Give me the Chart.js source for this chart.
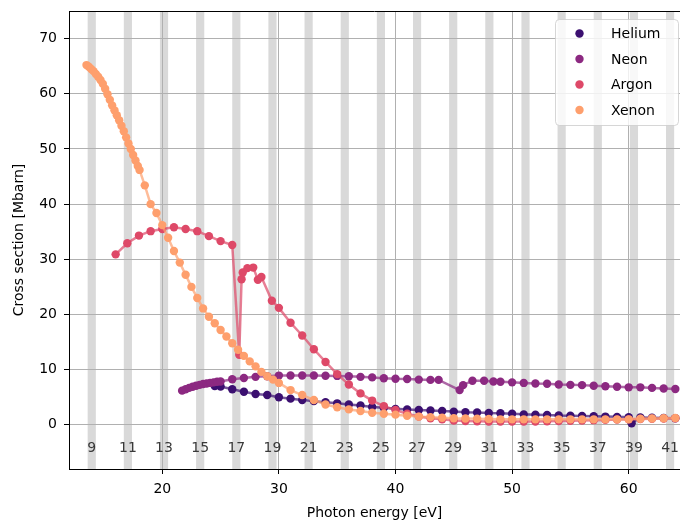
<!DOCTYPE html>
<html>
<head>
<meta charset="utf-8">
<script src="https://cdn.jsdelivr.net/npm/chart.js@4/dist/chart.umd.min.js"></script>
<style>
  body { margin: 0; background: #fff; }
  canvas { display: block; }
</style>
</head>
<body>
<canvas id="xs-chart" width="680" height="525"></canvas>
<script>
// Photoionisation cross sections [Mbarn] vs photon energy [eV]
var heliumE = [24.5, 25.0, 26, 27, 28, 29, 30, 31, 32, 33, 34, 35, 36, 37, 38, 39, 40, 41, 42, 43, 44, 45, 46, 47, 48, 49, 50, 51, 52, 53, 54, 55, 56, 57, 58, 59, 60, 60.25, 61, 62, 63, 64];
var heliumXS = [7.05, 6.95, 6.45, 6.0, 5.6, 5.4, 5.0, 4.75, 4.5, 4.3, 4.1, 3.9, 3.7, 3.5, 3.25, 3.1, 2.9, 2.8, 2.7, 2.6, 2.5, 2.4, 2.3, 2.25, 2.15, 2.1, 2.0, 1.9, 1.85, 1.8, 1.7, 1.65, 1.6, 1.55, 1.5, 1.45, 1.4, 0.3, 1.35, 1.3, 1.25, 1.2];

var neonE = [21.7, 22.0, 22.3, 22.6, 22.9, 23.2, 23.5, 23.8, 24.1, 24.4, 24.7, 25.0, 26, 27, 28, 29, 30, 31, 32, 33, 34, 35, 36, 37, 38, 39, 40, 41, 42, 43, 43.7, 45.5, 45.8, 46.6, 47.6, 48.4, 49.0, 50, 51, 52, 53, 54, 55, 56, 57, 58, 59, 60, 61, 62, 63, 64];
var neonXS = [6.2, 6.45, 6.7, 6.9, 7.1, 7.25, 7.4, 7.5, 7.6, 7.7, 7.8, 7.85, 8.27, 8.5, 8.7, 8.8, 8.93, 8.95, 8.95, 8.95, 8.9, 8.87, 8.8, 8.7, 8.6, 8.45, 8.35, 8.3, 8.2, 8.15, 8.15, 6.3, 7.2, 8.0, 8.0, 7.85, 7.8, 7.7, 7.6, 7.5, 7.45, 7.3, 7.25, 7.2, 7.1, 7.0, 6.9, 6.8, 6.8, 6.7, 6.6, 6.5];

var argonE = [16, 17, 18, 19, 20, 21, 22, 23, 24, 25, 26, 26.6, 26.8, 26.9, 27.3, 27.8, 28.2, 28.5, 29.4, 30, 31, 32, 33, 34, 35, 36, 37, 38, 39, 40, 41, 42, 43, 44, 45, 46, 47, 48, 49, 50, 51, 52, 53, 54, 55, 56, 57, 58, 59, 60, 61, 62, 63, 64];
var argonXS = [30.9, 32.9, 34.3, 35.1, 35.5, 35.8, 35.5, 35.1, 34.2, 33.3, 32.6, 12.7, 26.4, 27.6, 28.4, 28.5, 26.3, 26.8, 22.5, 21.2, 18.5, 16.2, 13.7, 11.4, 9.2, 7.3, 5.7, 4.4, 3.4, 2.7, 2.0, 1.5, 1.2, 1.0, 0.8, 0.7, 0.65, 0.6, 0.6, 0.6, 0.6, 0.62, 0.65, 0.7, 0.75, 0.8, 0.85, 0.9, 0.95, 1.0, 1.05, 1.1, 1.15, 1.2];

var xenonE = [13.5, 13.7, 13.9, 14.1, 14.3, 14.5, 14.7, 14.9, 15.1, 15.3, 15.5, 15.7, 15.9, 16.1, 16.3, 16.5, 16.7, 16.9, 17.1, 17.3, 17.5, 17.7, 17.9, 18.05, 18.5, 19.0, 19.5, 20.0, 20.5, 21.0, 21.5, 22.0, 22.5, 23.0, 23.5, 24.0, 24.5, 25.0, 25.5, 26.0, 26.5, 27.0, 27.5, 28.0, 28.5, 29.0, 29.5, 30.0, 31, 32, 33, 34, 35, 36, 37, 38, 39, 40, 41, 42, 43, 44, 45, 46, 47, 48, 49, 50, 51, 52, 53, 54, 55, 56, 57, 58, 59, 60, 61, 62, 63, 64];
var xenonXS = [65.2, 64.9, 64.5, 64.1, 63.6, 63.1, 62.5, 61.8, 60.9, 59.9, 58.9, 57.9, 57.0, 56.1, 55.2, 54.2, 53.2, 52.1, 51.0, 50.0, 48.9, 47.9, 46.9, 46.2, 43.4, 40.0, 38.4, 36.2, 33.9, 31.5, 29.4, 27.2, 25.0, 23.0, 21.1, 19.6, 18.4, 17.2, 16.0, 14.8, 13.6, 12.5, 11.5, 10.6, 9.6, 8.8, 8.2, 7.6, 6.3, 5.4, 4.5, 3.7, 3.2, 2.8, 2.5, 2.2, 2.0, 1.85, 1.65, 1.5, 1.4, 1.3, 1.2, 1.15, 1.1, 1.05, 1.0, 1.0, 1.0, 1.0, 1.0, 1.0, 1.0, 1.0, 1.0, 1.0, 1.0, 1.0, 1.1, 1.15, 1.2, 1.25];

// odd harmonics of the 1.55 eV driver
var harmonics = [9, 11, 13, 15, 17, 19, 21, 23, 25, 27, 29, 31, 33, 35, 37, 39, 41];
var photonEnergy = 1.55;
var bandHalfWidth = 0.35;

var xTicks = [20, 30, 40, 50, 60];
var yTicks = [0, 10, 20, 30, 40, 50, 60, 70];

var FONT = "'DejaVu Sans', sans-serif";

function toPoints(xs, ys) {
    return xs.map(function (x, i) { return { x: x, y: ys[i] }; });
}

function series(label, xs, ys, color, lineColor, order) {
    return {
        label: label,
        data: toPoints(xs, ys),
        showLine: true,
        borderColor: lineColor,
        borderWidth: 2.5,
        backgroundColor: color,
        pointBackgroundColor: color,
        pointBorderWidth: 0,
        pointRadius: 4.2,
        pointHoverRadius: 4.2,
        order: order
    };
}

// keep the plot box fixed: no extra room for edge tick labels
function fixBox(size) {
    return function (scale) {
        if (scale.isHorizontal()) scale.height = size; else scale.width = size;
        scale.paddingTop = 0;
        scale.paddingBottom = 0;
        scale.paddingLeft = 0;
        scale.paddingRight = 0;
    };
}

// grey bands at each harmonic, drawn under the grid
var harmonicBands = {
    id: 'harmonicBands',
    beforeDraw: function (chart) {
        var ctx = chart.ctx, area = chart.chartArea, x = chart.scales.x;
        ctx.save();
        ctx.beginPath();
        ctx.rect(area.left, area.top, area.right - area.left, area.bottom - area.top);
        ctx.clip();
        ctx.fillStyle = '#d9d9d9';
        harmonics.forEach(function (q) {
            var e = q * photonEnergy;
            var x0 = x.getPixelForValue(e - bandHalfWidth);
            var x1 = x.getPixelForValue(e + bandHalfWidth);
            ctx.fillRect(x0, area.top, x1 - x0, area.bottom - area.top);
        });
        ctx.restore();
    },
    beforeDatasetsDraw: function (chart) {
        var ctx = chart.ctx, x = chart.scales.x, y = chart.scales.y;
        ctx.save();
        ctx.font = '14px ' + FONT;
        ctx.fillStyle = '#3a3a3a';
        ctx.textAlign = 'center';
        ctx.textBaseline = 'middle';
        harmonics.forEach(function (q) {
            ctx.fillText(String(q), x.getPixelForValue(q * photonEnergy), y.getPixelForValue(-4.2));
        });
        ctx.restore();
    }
};

// top spine and framed legend in the upper right corner
var frameAndLegend = {
    id: 'frameAndLegend',
    afterDraw: function (chart) {
        var ctx = chart.ctx, area = chart.chartArea;
        ctx.save();
        ctx.strokeStyle = '#000';
        ctx.lineWidth = 1;
        ctx.beginPath();
        ctx.moveTo(area.left, area.top + 0.5);
        ctx.lineTo(area.right, area.top + 0.5);
        ctx.stroke();

        var bx = 555.5, by = 19.5, bw = 123, bh = 106, r = 4;
        ctx.beginPath();
        ctx.moveTo(bx + r, by);
        ctx.lineTo(bx + bw - r, by);
        ctx.arcTo(bx + bw, by, bx + bw, by + r, r);
        ctx.lineTo(bx + bw, by + bh - r);
        ctx.arcTo(bx + bw, by + bh, bx + bw - r, by + bh, r);
        ctx.lineTo(bx + r, by + bh);
        ctx.arcTo(bx, by + bh, bx, by + bh - r, r);
        ctx.lineTo(bx, by + r);
        ctx.arcTo(bx, by, bx + r, by, r);
        ctx.closePath();
        ctx.fillStyle = 'rgba(255,255,255,0.8)';
        ctx.fill();
        ctx.strokeStyle = 'rgba(204,204,204,0.8)';
        ctx.stroke();

        ctx.font = '14px ' + FONT;
        ctx.textBaseline = 'middle';
        ctx.textAlign = 'left';
        chart.data.datasets.forEach(function (ds, i) {
            var rowY = 33.5 + i * 25.5;
            ctx.fillStyle = ds.pointBackgroundColor;
            ctx.beginPath();
            ctx.arc(579.5, rowY, 4.2, 0, Math.PI * 2);
            ctx.fill();
            ctx.fillStyle = '#000';
            ctx.fillText(ds.label, 611, rowY + 1);
        });
        ctx.restore();
    }
};

new Chart(document.getElementById('xs-chart'), {
    type: 'scatter',
    data: {
        datasets: [
            series('Helium', heliumE, heliumXS, '#3b0f70', 'rgba(59,15,112,0.7)', 4),
            series('Neon', neonE, neonXS, '#8c2981', 'rgba(140,41,129,0.7)', 3),
            series('Argon', argonE, argonXS, '#de4968', 'rgba(222,73,104,0.7)', 2),
            series('Xenon', xenonE, xenonXS, '#fe9f6d', 'rgba(254,159,109,0.7)', 1)
        ]
    },
    options: {
        responsive: false,
        animation: false,
        devicePixelRatio: 1,
        layout: { autoPadding: false, padding: { top: 11, right: 0, bottom: 0, left: 0 } },
        plugins: {
            legend: { display: false },
            tooltip: { enabled: false }
        },
        scales: {
            x: {
                type: 'linear',
                min: 12,
                max: 64.4,
                afterBuildTicks: function (scale) {
                    scale.ticks = xTicks.map(function (v) { return { value: v }; });
                },
                afterFit: fixBox(56),
                grid: { color: '#b0b0b0', lineWidth: 1, tickLength: 5, tickColor: '#000' },
                border: { display: true, color: '#000', width: 1 },
                ticks: { color: '#000', font: { family: FONT, size: 14 }, padding: 7, maxRotation: 0 },
                title: {
                    display: true,
                    text: 'Photon energy [eV]',
                    color: '#000',
                    font: { family: FONT, size: 14 },
                    padding: { top: 0, bottom: 3 }
                }
            },
            y: {
                min: -8,
                max: 75,
                afterBuildTicks: function (scale) {
                    scale.ticks = yTicks.map(function (v) { return { value: v }; });
                },
                afterFit: fixBox(69),
                grid: { color: '#b0b0b0', lineWidth: 1, tickLength: 5, tickColor: '#000' },
                border: { display: true, color: '#000', width: 1 },
                ticks: { color: '#000', font: { family: FONT, size: 14 }, padding: 7 },
                title: {
                    display: true,
                    text: 'Cross section [Mbarn]',
                    color: '#000',
                    font: { family: FONT, size: 14 },
                    padding: { top: 11, bottom: 0 }
                }
            }
        }
    },
    plugins: [harmonicBands, frameAndLegend]
});
</script>
</body>
</html>
